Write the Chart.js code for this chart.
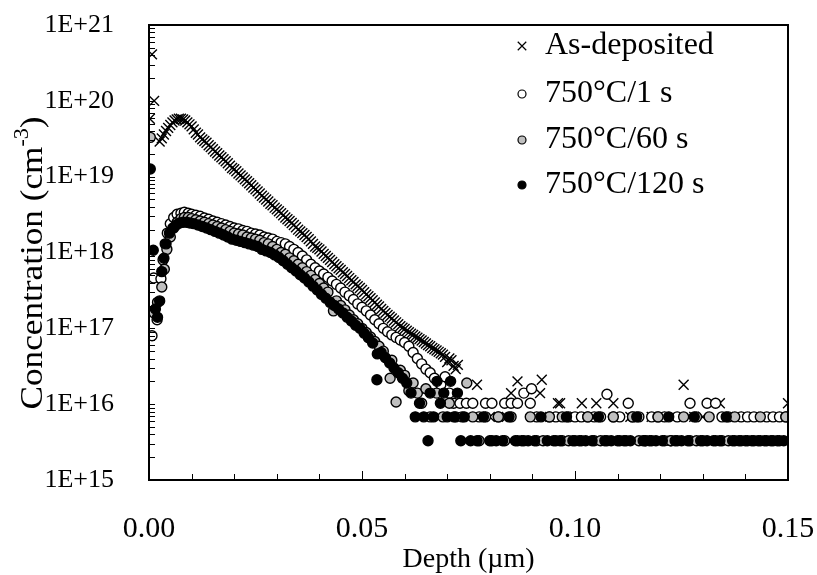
<!DOCTYPE html>
<html>
<head>
<meta charset="utf-8">
<script src="https://cdn.jsdelivr.net/npm/chart.js@4.4.1/dist/chart.umd.min.js"></script>
<style>
  html, body { margin: 0; padding: 0; background: #fff; }
  #wrap { width: 817px; height: 575px; }
</style>
</head>
<body>
<div id="wrap"><canvas id="myChart" width="817" height="575"></canvas></div>
<script>
// series names (legend order)
const seriesNames = ['As-deposited', '750°C/1 s', '750°C/60 s', '750°C/120 s'];

// y tick labels (decades) and x tick range
const yDecades = [15, 16, 17, 18, 19, 20, 21];
const xTicks = [0, 0.05, 0.10, 0.15];

// As-deposited  (depth in um, concentration in cm-3)
const asDepDepth = [
  0.0002, 0.0007, 0.0012, 0.0025, 0.0030, 0.0035, 0.0040, 0.0045, 0.0050, 0.0055,
  0.0060, 0.0065, 0.0070, 0.0075, 0.0080, 0.0085, 0.0090, 0.0095, 0.0100, 0.011,
  0.012, 0.013, 0.014, 0.015, 0.016, 0.017, 0.018, 0.019, 0.020, 0.021,
  0.022, 0.023, 0.024, 0.025, 0.026, 0.027, 0.028, 0.029, 0.030, 0.031,
  0.032, 0.033, 0.034, 0.035, 0.036, 0.037, 0.038, 0.039, 0.040, 0.041,
  0.042, 0.043, 0.044, 0.045, 0.046, 0.047, 0.048, 0.049, 0.050, 0.051,
  0.052, 0.053, 0.054, 0.055, 0.056, 0.057, 0.058, 0.059, 0.060, 0.061,
  0.062, 0.063, 0.064, 0.065, 0.066, 0.067, 0.068, 0.069, 0.070, 0.071,
  0.072, 0.0725, 0.0770, 0.0800, 0.0840, 0.0850, 0.0865, 0.0900, 0.0918, 0.0922,
  0.0942, 0.0960, 0.0965, 0.1000, 0.1016, 0.1050, 0.1090, 0.1130, 0.1180, 0.1200,
  0.1228, 0.1255, 0.1280, 0.1300, 0.1340, 0.1380, 0.1420, 0.1490, 0.1500,
  0.0105, 0.0115, 0.0125, 0.0135, 0.0145, 0.0155, 0.0165, 0.0175, 0.0185, 0.0195,
  0.0205, 0.0215, 0.0225, 0.0235, 0.0245, 0.0255, 0.0265, 0.0275, 0.0285, 0.0295,
  0.0305, 0.0315, 0.0325, 0.0335, 0.0345, 0.0355, 0.0365, 0.0375, 0.0385, 0.0395,
  0.0405, 0.0415, 0.0425, 0.0435, 0.0445, 0.0455, 0.0465, 0.0475, 0.0485, 0.0495,
  0.0505, 0.0515, 0.0525, 0.0535, 0.0545, 0.0555, 0.0565, 0.0575, 0.0585, 0.0595,
  0.0605, 0.0615, 0.0625, 0.0635, 0.0645, 0.0655, 0.0665, 0.0675, 0.0685, 0.0695,
  0.0705, 0.0715
];
const asDepConc = [
  5.8e19, 4.1e20, 1.0e20, 2.9e19, 3.2e19, 3.6e19, 4.0e19, 4.4e19, 4.8e19, 5.2e19,
  5.5e19, 5.7e19, 5.8e19, 5.8e19, 5.7e19, 5.5e19, 5.2e19, 4.9e19, 4.6e19, 3.8e19,
  3.3e19, 2.95e19, 2.6e19, 2.3e19, 2.04e19, 1.8e19, 1.6e19, 1.4e19, 1.25e19, 1.1e19,
  9.8e18, 8.7e18, 7.7e18, 6.8e18, 6.0e18, 5.3e18, 4.7e18, 4.2e18, 3.7e18, 3.3e18,
  2.9e18, 2.6e18, 2.3e18, 2.0e18, 1.8e18, 1.6e18, 1.4e18, 1.2e18, 1.1e18, 9.6e17,
  8.5e17, 7.5e17, 6.6e17, 5.9e17, 5.2e17, 4.6e17, 4.1e17, 3.6e17, 3.2e17, 2.8e17,
  2.5e17, 2.2e17, 1.95e17, 1.7e17, 1.5e17, 1.35e17, 1.2e17, 1.07e17, 9.8e16, 8.9e16,
  8.2e16, 7.5e16, 6.9e16, 6.3e16, 5.8e16, 5.3e16, 4.9e16, 4.5e16, 3.6e16, 3.8e16,
  2.9e16, 3.3e16, 1.8e16, 6.8e15, 6.8e15, 1.4e16, 2.0e16, 6.8e15, 1.4e16, 2.1e16,
  6.8e15, 1.03e16, 1.03e16, 6.8e15, 1.03e16, 1.03e16, 1.03e16, 6.8e15, 6.8e15, 6.8e15,
  3.3e15, 1.8e16, 6.8e15, 6.8e15, 1.03e16, 6.8e15, 6.8e15, 6.8e15, 1.03e16,
  4.2e19, 3.6e19, 3.1e19, 2.8e19, 2.45e19, 2.15e19, 1.9e19, 1.7e19, 1.5e19, 1.3e19,
  1.18e19, 1.04e19, 9.2e18, 8.2e18, 7.2e18, 6.4e18, 5.6e18, 5.0e18, 4.4e18, 3.9e18,
  3.5e18, 3.1e18, 2.75e18, 2.45e18, 2.15e18, 1.9e18, 1.7e18, 1.5e18, 1.3e18, 1.15e18,
  1.03e18, 9.0e17, 8.0e17, 7.0e17, 6.2e17, 5.5e17, 4.9e17, 4.3e17, 3.8e17, 3.4e17,
  3.0e17, 2.65e17, 2.35e17, 2.05e17, 1.8e17, 1.6e17, 1.42e17, 1.27e17, 1.13e17, 1.02e17,
  9.3e16, 8.5e16, 7.8e16, 7.2e16, 6.6e16, 6.0e16, 5.5e16, 5.1e16, 4.7e16, 4.2e16,
  4.0e16, 3.2e16
];

// 750 C / 1 s
const ann1Depth = [
  0.0007, 0.0011, 0.0019, 0.0028, 0.0033, 0.0038, 0.0043, 0.0050, 0.0058, 0.0066,
  0.0075, 0.0083, 0.0092, 0.010, 0.011, 0.012, 0.013, 0.014, 0.015, 0.016,
  0.017, 0.018, 0.019, 0.020, 0.021, 0.022, 0.023, 0.024, 0.025, 0.026,
  0.027, 0.028, 0.029, 0.030, 0.031, 0.032, 0.033, 0.034, 0.035, 0.036,
  0.037, 0.038, 0.039, 0.040, 0.041, 0.042, 0.043, 0.044, 0.045, 0.046,
  0.047, 0.048, 0.049, 0.050, 0.051, 0.052, 0.053, 0.054, 0.055, 0.056,
  0.057, 0.058, 0.059, 0.060, 0.061, 0.062, 0.063, 0.064, 0.065, 0.066,
  0.067, 0.0685, 0.0695, 0.0705, 0.0715, 0.0730, 0.0745, 0.0760, 0.0775, 0.0790,
  0.0805, 0.0820, 0.0835, 0.0850, 0.0865, 0.0880, 0.0895, 0.0898, 0.0910, 0.0940,
  0.0955, 0.0970, 0.0985, 0.1000, 0.1015, 0.1030, 0.1045, 0.1060, 0.1075, 0.1090,
  0.1105, 0.1125, 0.1135, 0.1150, 0.1165, 0.1180, 0.1195, 0.1210, 0.1225, 0.1240,
  0.1270, 0.1285, 0.1310, 0.1330, 0.1345, 0.1360, 0.1375, 0.1390, 0.1405, 0.1420,
  0.1435, 0.1450, 0.1465, 0.1480, 0.1495
];
const ann1Conc = [
  8.0e16, 4.6e17, 1.3e17, 4.5e17, 8.0e17, 1.3e18, 1.8e18, 2.4e18, 2.9e18, 3.2e18,
  3.3e18, 3.4e18, 3.3e18, 3.2e18, 3.1e18, 3.0e18, 2.85e18, 2.75e18, 2.6e18, 2.5e18,
  2.4e18, 2.3e18, 2.2e18, 2.1e18, 2.05e18, 1.95e18, 1.9e18, 1.8e18, 1.75e18, 1.7e18,
  1.6e18, 1.55e18, 1.5e18, 1.4e18, 1.35e18, 1.3e18, 1.2e18, 1.1e18, 1.0e18, 9.0e17,
  8.0e17, 7.0e17, 6.3e17, 5.7e17, 5.2e17, 4.7e17, 4.2e17, 3.8e17, 3.4e17, 3.0e17,
  2.7e17, 2.4e17, 2.1e17, 1.9e17, 1.7e17, 1.5e17, 1.3e17, 1.15e17, 1.0e17, 9.0e16,
  8.2e16, 7.6e16, 7.0e16, 6.5e16, 5.8e16, 4.8e16, 4.0e16, 3.4e16, 2.9e16, 2.6e16,
  2.2e16, 1.8e16, 2.3e16, 1.4e16, 1.03e16, 1.03e16, 1.03e16, 1.03e16, 6.8e15, 1.03e16,
  1.03e16, 6.8e15, 1.03e16, 1.03e16, 1.03e16, 1.4e16, 1.03e16, 1.6e16, 6.8e15, 6.8e15,
  6.8e15, 3.3e15, 6.8e15, 6.8e15, 6.8e15, 6.8e15, 6.8e15, 6.8e15, 1.35e16, 6.8e15,
  6.8e15, 1.03e16, 6.8e15, 6.8e15, 3.3e15, 6.8e15, 6.8e15, 6.8e15, 3.3e15, 6.8e15,
  1.03e16, 6.8e15, 1.03e16, 1.03e16, 6.8e15, 6.8e15, 3.3e15, 6.8e15, 6.8e15, 6.8e15,
  3.3e15, 6.8e15, 6.8e15, 6.8e15, 6.8e15
];

// 750 C / 60 s
const ann60Depth = [
  0.0003, 0.0012, 0.0020, 0.0030, 0.0036, 0.0042, 0.0050, 0.0058, 0.0066, 0.0075,
  0.0083, 0.0092, 0.0100, 0.0110, 0.0120, 0.0130, 0.0140, 0.0150, 0.0160, 0.0170,
  0.0180, 0.0190, 0.0200, 0.0210, 0.0220, 0.0230, 0.0240, 0.0250, 0.0260, 0.0270,
  0.0280, 0.0290, 0.0300, 0.0310, 0.0320, 0.0330, 0.0340, 0.0350, 0.0360, 0.0370,
  0.0380, 0.0390, 0.0400, 0.0410, 0.0420, 0.0433, 0.0440, 0.0450, 0.0460, 0.0470,
  0.0480, 0.0490, 0.0500, 0.0510, 0.0520, 0.0530, 0.0540, 0.0550, 0.0566, 0.0570,
  0.0580, 0.0590, 0.0600, 0.0610, 0.0620, 0.0630, 0.0640, 0.0650, 0.0660, 0.0675,
  0.0690, 0.0705, 0.0720, 0.0735, 0.0746, 0.0760, 0.0775, 0.0790, 0.0805, 0.0820,
  0.0835, 0.0850, 0.0865, 0.0880, 0.0895, 0.0910, 0.0925, 0.0940, 0.0955, 0.0970,
  0.0985, 0.1000, 0.1015, 0.1030, 0.1045, 0.1060, 0.1075, 0.1090, 0.1105, 0.1120,
  0.1135, 0.1150, 0.1165, 0.1180, 0.1195, 0.1210, 0.1225, 0.1240, 0.1255, 0.1270,
  0.1285, 0.1300, 0.1315, 0.1330, 0.1345, 0.1360, 0.1375, 0.1390, 0.1405, 0.1420,
  0.1435, 0.1450, 0.1465, 0.1480, 0.1495
];
const ann60Conc = [
  3.3e19, 1.6e17, 2.2e17, 3.5e17, 6.0e17, 1.1e18, 1.6e18, 2.1e18, 2.5e18, 2.8e18,
  2.9e18, 2.9e18, 2.8e18, 2.7e18, 2.6e18, 2.5e18, 2.4e18, 2.3e18, 2.2e18, 2.1e18,
  2.0e18, 1.9e18, 1.8e18, 1.75e18, 1.7e18, 1.6e18, 1.55e18, 1.5e18, 1.45e18, 1.35e18,
  1.3e18, 1.2e18, 1.1e18, 1.0e18, 9.5e17, 8.5e17, 7.8e17, 7.0e17, 6.3e17, 5.6e17,
  5.0e17, 4.4e17, 3.9e17, 3.4e17, 3.0e17, 1.7e17, 2.3e17, 2.0e17, 1.75e17, 1.5e17,
  1.3e17, 1.15e17, 1.0e17, 8.8e16, 7.7e16, 6.7e16, 5.8e16, 5.0e16, 2.2e16, 3.8e16,
  1.07e16, 2.8e16, 2.4e16, 1.5e16, 1.9e16, 1.4e16, 1.03e16, 1.6e16, 6.8e15, 1.4e16,
  6.8e15, 1.03e16, 6.8e15, 6.8e15, 1.9e16, 6.8e15, 3.3e15, 6.8e15, 3.3e15, 6.8e15,
  3.3e15, 6.8e15, 3.3e15, 3.3e15, 6.8e15, 3.3e15, 3.3e15, 6.8e15, 3.3e15, 6.8e15,
  3.3e15, 3.3e15, 3.3e15, 6.8e15, 3.3e15, 3.3e15, 3.3e15, 6.8e15, 3.3e15, 3.3e15,
  6.8e15, 3.3e15, 3.3e15, 3.3e15, 6.8e15, 3.3e15, 3.3e15, 3.3e15, 6.8e15, 3.3e15,
  3.3e15, 3.3e15, 6.8e15, 3.3e15, 3.3e15, 3.3e15, 6.8e15, 3.3e15, 3.3e15, 3.3e15,
  6.8e15, 3.3e15, 3.3e15, 3.3e15, 6.8e15
];

// 750 C / 120 s
const ann120Depth = [
  0.0003, 0.0010, 0.0015, 0.0020, 0.0025, 0.0030, 0.0035, 0.0040, 0.0048, 0.0056,
  0.0064, 0.0072, 0.0080, 0.0088, 0.0096, 0.0105, 0.0115, 0.0125, 0.0135, 0.0145,
  0.0155, 0.0165, 0.0175, 0.0185, 0.0195, 0.0205, 0.0215, 0.0225, 0.0235, 0.0245,
  0.0255, 0.0265, 0.0275, 0.0285, 0.0295, 0.0305, 0.0315, 0.0325, 0.0335, 0.0345,
  0.0355, 0.0365, 0.0375, 0.0385, 0.0395, 0.0405, 0.0415, 0.0425, 0.0435, 0.0445,
  0.0455, 0.0465, 0.0475, 0.0485, 0.0495, 0.0505, 0.0515, 0.0525, 0.0535, 0.0536,
  0.0545, 0.0555, 0.0565, 0.0575, 0.0585, 0.0595, 0.0605, 0.0615, 0.0625, 0.0635,
  0.0645, 0.0655, 0.0660, 0.0668, 0.0676, 0.0684, 0.0692, 0.0700, 0.0708, 0.0716,
  0.0724, 0.0732, 0.0740, 0.0755, 0.0770, 0.0785, 0.0800, 0.0815, 0.0830, 0.0845,
  0.0860, 0.0875, 0.0890, 0.0905, 0.0920, 0.0935, 0.0950, 0.0965, 0.0980, 0.0995,
  0.1010, 0.1025, 0.1040, 0.1055, 0.1070, 0.1085, 0.1100, 0.1115, 0.1130, 0.1145,
  0.1160, 0.1175, 0.1190, 0.1205, 0.1220, 0.1235, 0.1250, 0.1265, 0.1280, 0.1295,
  0.1310, 0.1325, 0.1340, 0.1355, 0.1370, 0.1385, 0.1400, 0.1415, 0.1430, 0.1445,
  0.1460, 0.1475, 0.1490
];
const ann120Conc = [
  1.26e19, 1.07e18, 1.8e17, 1.4e17, 2.3e17, 5.6e17, 8.4e17, 1.3e18, 1.8e18, 2.1e18,
  2.3e18, 2.45e18, 2.5e18, 2.5e18, 2.45e18, 2.4e18, 2.3e18, 2.2e18, 2.1e18, 2.0e18,
  1.9e18, 1.8e18, 1.7e18, 1.6e18, 1.5e18, 1.45e18, 1.4e18, 1.35e18, 1.3e18, 1.25e18,
  1.2e18, 1.1e18, 1.05e18, 1.0e18, 9.3e17, 8.6e17, 7.8e17, 7.0e17, 6.3e17, 5.7e17,
  5.1e17, 4.6e17, 4.1e17, 3.6e17, 3.2e17, 2.8e17, 2.5e17, 2.2e17, 2.0e17, 1.8e17,
  1.6e17, 1.4e17, 1.25e17, 1.1e17, 1.0e17, 8.6e16, 7.5e16, 6.4e16, 2.1e16, 4.6e16,
  4.8e16, 4.1e16, 3.5e16, 3.0e16, 2.6e16, 2.2e16, 1.9e16, 1.4e16, 6.8e15, 1.03e16,
  6.8e15, 3.3e15, 1.4e16, 6.8e15, 2.0e16, 1.03e16, 1.4e16, 6.8e15, 2.0e16, 6.8e15,
  1.4e16, 3.3e15, 6.8e15, 3.3e15, 3.3e15, 6.8e15, 3.3e15, 3.3e15, 3.3e15, 6.8e15,
  3.3e15, 3.3e15, 3.3e15, 3.3e15, 6.8e15, 3.3e15, 3.3e15, 3.3e15, 6.8e15, 3.3e15,
  3.3e15, 3.3e15, 3.3e15, 6.8e15, 3.3e15, 3.3e15, 3.3e15, 3.3e15, 3.3e15, 6.8e15,
  3.3e15, 3.3e15, 3.3e15, 3.3e15, 6.8e15, 3.3e15, 3.3e15, 3.3e15, 6.8e15, 3.3e15,
  3.3e15, 3.3e15, 3.3e15, 6.8e15, 3.3e15, 3.3e15, 3.3e15, 3.3e15, 3.3e15, 3.3e15,
  3.3e15, 3.3e15, 3.3e15
];

const toPoints = (xs, ys) => xs.map((x, i) => ({ x: x, y: ys[i] }));

const FONT = "'Liberation Serif', 'Times New Roman', serif";

const styles = [
  { pointStyle: 'crossRot', radius: 7, bg: '#000', border: '#000', order: 3, legendR: 6 },
  { pointStyle: 'circle', radius: 5, bg: '#fff', border: '#000', order: 2, legendR: 4 },
  { pointStyle: 'circle', radius: 5, bg: '#bfbfbf', border: '#000', order: 1, legendR: 4 },
  { pointStyle: 'circle', radius: 5, bg: '#000', border: '#000', order: 0, legendR: 4 },
];
const series = [
  toPoints(asDepDepth, asDepConc),
  toPoints(ann1Depth, ann1Conc),
  toPoints(ann60Depth, ann60Conc),
  toPoints(ann120Depth, ann120Conc),
];

const data = {
  datasets: seriesNames.map((name, i) => ({
    label: name,
    data: series[i],
    showLine: false,
    pointStyle: styles[i].pointStyle,
    pointRadius: styles[i].radius,
    pointHoverRadius: styles[i].radius,
    pointBackgroundColor: styles[i].bg,
    pointBorderColor: styles[i].border,
    pointBorderWidth: 1.4,
    order: styles[i].order,
  })),
};

// frame, inward tick marks, y title with superscript, legend
const decorations = {
  id: 'decorations',
  afterDraw: (chart) => {
    const ctx = chart.ctx;
    const area = chart.chartArea;
    const xs = chart.scales.x;
    const ys = chart.scales.y;
    ctx.save();
    ctx.strokeStyle = '#000';
    ctx.lineWidth = 1;
    ctx.beginPath();
    for (let n = 15; n < 21; n++) {
      for (let k = 1; k <= 9; k++) {
        const py = Math.round(ys.getPixelForValue(k * Math.pow(10, n))) + 0.5;
        ctx.moveTo(area.left, py);
        ctx.lineTo(area.left + 6, py);
      }
    }
    for (let i = 0; i <= 15; i++) {
      const px = Math.round(xs.getPixelForValue(i / 100)) + 0.5;
      const len = i % 5 === 0 ? 9 : 6;
      ctx.moveTo(px, area.bottom);
      ctx.lineTo(px, area.bottom - len);
    }
    ctx.stroke();

    ctx.lineWidth = 2;
    ctx.strokeRect(area.left, area.top, area.right - area.left, area.bottom - area.top);

    // y axis title (text stretched a little along its length, like the reference)
    ctx.fillStyle = '#000';
    ctx.translate(31, 263);
    ctx.rotate(-Math.PI / 2);
    ctx.scale(1.1, 1);
    const main = 'Concentration (cm';
    ctx.font = '32px ' + FONT;
    const w1 = ctx.measureText(main).width;
    ctx.font = '20px ' + FONT;
    const w2 = ctx.measureText('-3').width;
    ctx.font = '32px ' + FONT;
    const w3 = ctx.measureText(')').width;
    let x0 = -(w1 + w2 + w3) / 2;
    ctx.textBaseline = 'alphabetic';
    ctx.fillText(main, x0, 11);
    ctx.font = '20px ' + FONT;
    ctx.fillText('-3', x0 + w1, -3);
    ctx.font = '32px ' + FONT;
    ctx.fillText(')', x0 + w1 + w2, 11);
    ctx.restore();

    // legend
    ctx.save();
    const lx = 522, tx = 545;
    const ly = [46, 94, 140, 185];
    ctx.font = '32px ' + FONT;
    ctx.textBaseline = 'middle';
    seriesNames.forEach((name, i) => {
      ctx.fillStyle = styles[i].bg;
      ctx.strokeStyle = styles[i].border;
      ctx.lineWidth = 1.2;
      Chart.helpers.drawPoint(ctx, {
        pointStyle: styles[i].pointStyle,
        radius: styles[i].legendR,
        rotation: 0,
        borderWidth: 1.2,
      }, lx, ly[i]);
      ctx.fillStyle = '#000';
      ctx.fillText(name, tx, ly[i]);
    });
    ctx.restore();
  },
};

const config = {
  type: 'scatter',
  data: data,
  plugins: [decorations],
  options: {
    responsive: false,
    animation: false,
    events: [],
    layout: { padding: { top: 25, right: 29, left: 0, bottom: 0 } },
    plugins: {
      legend: { display: false },
      tooltip: { enabled: false },
    },
    scales: {
      x: {
        type: 'linear',
        min: 0,
        max: 0.15,
        grid: { display: false, drawTicks: false },
        border: { display: false },
        afterBuildTicks: (scale) => {
          scale.ticks = xTicks.map((v) => ({ value: v }));
        },
        afterFit: (scale) => {
          scale.height = 95;
          scale.paddingLeft = 0;
          scale.paddingRight = 0;
        },
        ticks: {
          color: '#000',
          padding: 31,
          maxRotation: 0,
          autoSkip: false,
          font: { family: FONT, size: 30 },
          callback: (v) => Number(v).toFixed(2),
        },
        title: {
          display: true,
          text: 'Depth (µm)',
          color: '#000',
          font: { family: FONT, size: 28, lineHeight: 1 },
          padding: { top: 0, bottom: 1 },
        },
      },
      y: {
        type: 'logarithmic',
        min: 1e15,
        max: 1e21,
        grid: { display: false, drawTicks: false },
        border: { display: false },
        afterBuildTicks: (scale) => {
          scale.ticks = yDecades.map((n) => ({ value: Math.pow(10, n) }));
        },
        afterFit: (scale) => {
          scale.width = 149;
          scale.paddingTop = 0;
          scale.paddingBottom = 0;
        },
        ticks: {
          color: '#000',
          padding: 35,
          autoSkip: false,
          font: { family: FONT, size: 26 },
          callback: (v) => '1E+' + Math.round(Math.log10(v)),
        },
      },
    },
  },
};

const myChart = new Chart(document.getElementById('myChart'), config);
</script>
</body>
</html>
